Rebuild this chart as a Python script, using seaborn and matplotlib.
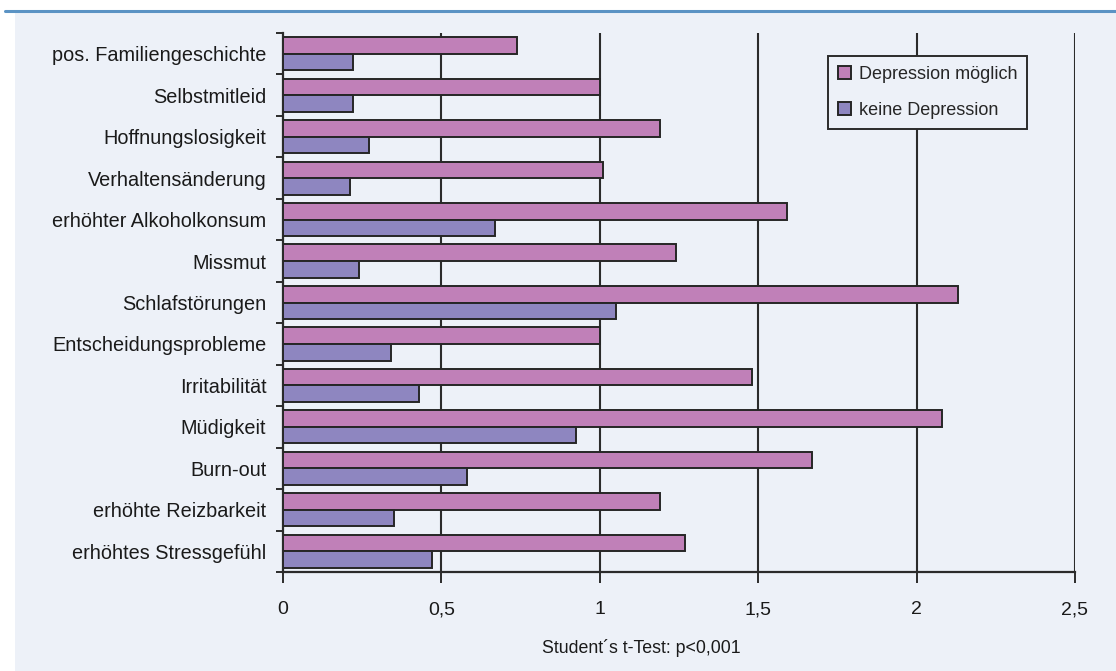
import matplotlib
matplotlib.use("Agg")
import matplotlib.pyplot as plt
from matplotlib.patches import Rectangle
from matplotlib.lines import Line2D
from matplotlib.ticker import FixedLocator, FuncFormatter
import seaborn as sns
import pandas as pd

categories = [
    "pos. Familiengeschichte", "Selbstmitleid", "Hoffnungslosigkeit",
    "Verhaltensänderung", "erhöhter Alkoholkonsum", "Missmut",
    "Schlafstörungen", "Entscheidungsprobleme", "Irritabilität",
    "Müdigkeit", "Burn-out", "erhöhte Reizbarkeit", "erhöhtes Stressgefühl",
]
depression_moeglich = [0.74, 1.00, 1.19, 1.01, 1.59, 1.24, 2.13, 1.00, 1.48, 2.08, 1.67, 1.19, 1.27]
keine_depression = [0.22, 0.22, 0.27, 0.21, 0.67, 0.24, 1.05, 0.34, 0.43, 0.925, 0.58, 0.35, 0.47]
series_names = ["Depression möglich", "keine Depression"]
x_ticks = [0, 0.5, 1, 1.5, 2, 2.5]
x_label = "Student´s t-Test: p<0,001"

df = pd.DataFrame({
    "Kategorie": categories * 2,
    "Wert": depression_moeglich + keine_depression,
    "Gruppe": [series_names[0]] * len(categories) + [series_names[1]] * len(categories),
})

sns.set_theme(style="white")
plt.rcParams["font.family"] = ["Liberation Sans", "DejaVu Sans"]

W, H = 1116, 671
fig = plt.figure(figsize=(W / 100, H / 100), dpi=100, facecolor="white")
bg = "#edf1f8"
fig.add_artist(Rectangle((15 / W, 0), 1 - 15 / W, 1 - 12 / H, transform=fig.transFigure,
                         facecolor=bg, edgecolor="none", zorder=-2))
fig.add_artist(Line2D([5 / W, 1], [1 - 11 / H, 1 - 11 / H], transform=fig.transFigure,
                      color="#5b93c4", linewidth=2.2, zorder=-1))

left, right = 283 / W, 1075 / W
bottom, top = 1 - 572 / H, 1 - 33 / H
ax = fig.add_axes([left, bottom, right - left, top - bottom])
ax.set_zorder(2)
ax.set_facecolor(bg)

palette = {series_names[0]: "#c080b8", series_names[1]: "#8e86c0"}
sns.barplot(data=df, y="Kategorie", x="Wert", hue="Gruppe", order=categories,
            hue_order=series_names, palette=palette, orient="h", width=0.8,
            edgecolor="#262626", linewidth=1.4, saturation=1, ax=ax, zorder=3)

ax.set_xlim(0, 2.5)
ax.set_ylim(len(categories) - 0.5, -0.5)
ax.set_xticks(x_ticks)
ax.xaxis.set_major_formatter(FuncFormatter(lambda v, p: ("%g" % v).replace(".", ",")))
for xv in x_ticks[1:]:
    ax.axvline(xv, color="#2b2b2b", linewidth=1.5, zorder=2)

for s in ["top", "right"]:
    ax.spines[s].set_visible(False)
for s in ["left", "bottom"]:
    ax.spines[s].set_color("#2b2b2b")
    ax.spines[s].set_linewidth(1.6)

ax.tick_params(axis="x", direction="out", length=8, width=1.4, color="#2b2b2b",
               labelsize=14, labelcolor="#1a1a1a", pad=13, bottom=True)
ax.tick_params(axis="y", which="major", length=0, labelsize=14.3, labelcolor="#1a1a1a", pad=12, left=False)
ax.yaxis.set_minor_locator(FixedLocator([i - 0.5 for i in range(len(categories) + 1)]))
ax.tick_params(axis="y", which="minor", direction="out", length=5, width=1.4, color="#2b2b2b", left=True)

ax.set_ylabel("")
ax.set_xlabel(x_label, fontsize=12.8, color="#1a1a1a")
ax.xaxis.set_label_coords(0.452, -0.125)

handles, labels = ax.get_legend_handles_labels()
leg = ax.legend(handles, labels, loc="upper left", bbox_to_anchor=(0.688, 0.957),
                fontsize=13, frameon=True, fancybox=False, handlelength=0.75,
                handleheight=0.75, handletextpad=0.4, labelspacing=1.05,
                borderpad=0.55, borderaxespad=0)
leg.get_frame().set_edgecolor("#2b2b2b")
leg.get_frame().set_linewidth(1.4)
leg.get_frame().set_facecolor(bg)
leg.get_frame().set_alpha(1)
leg.set_zorder(5)

fig.savefig("out.png", dpi=100, facecolor="white")
